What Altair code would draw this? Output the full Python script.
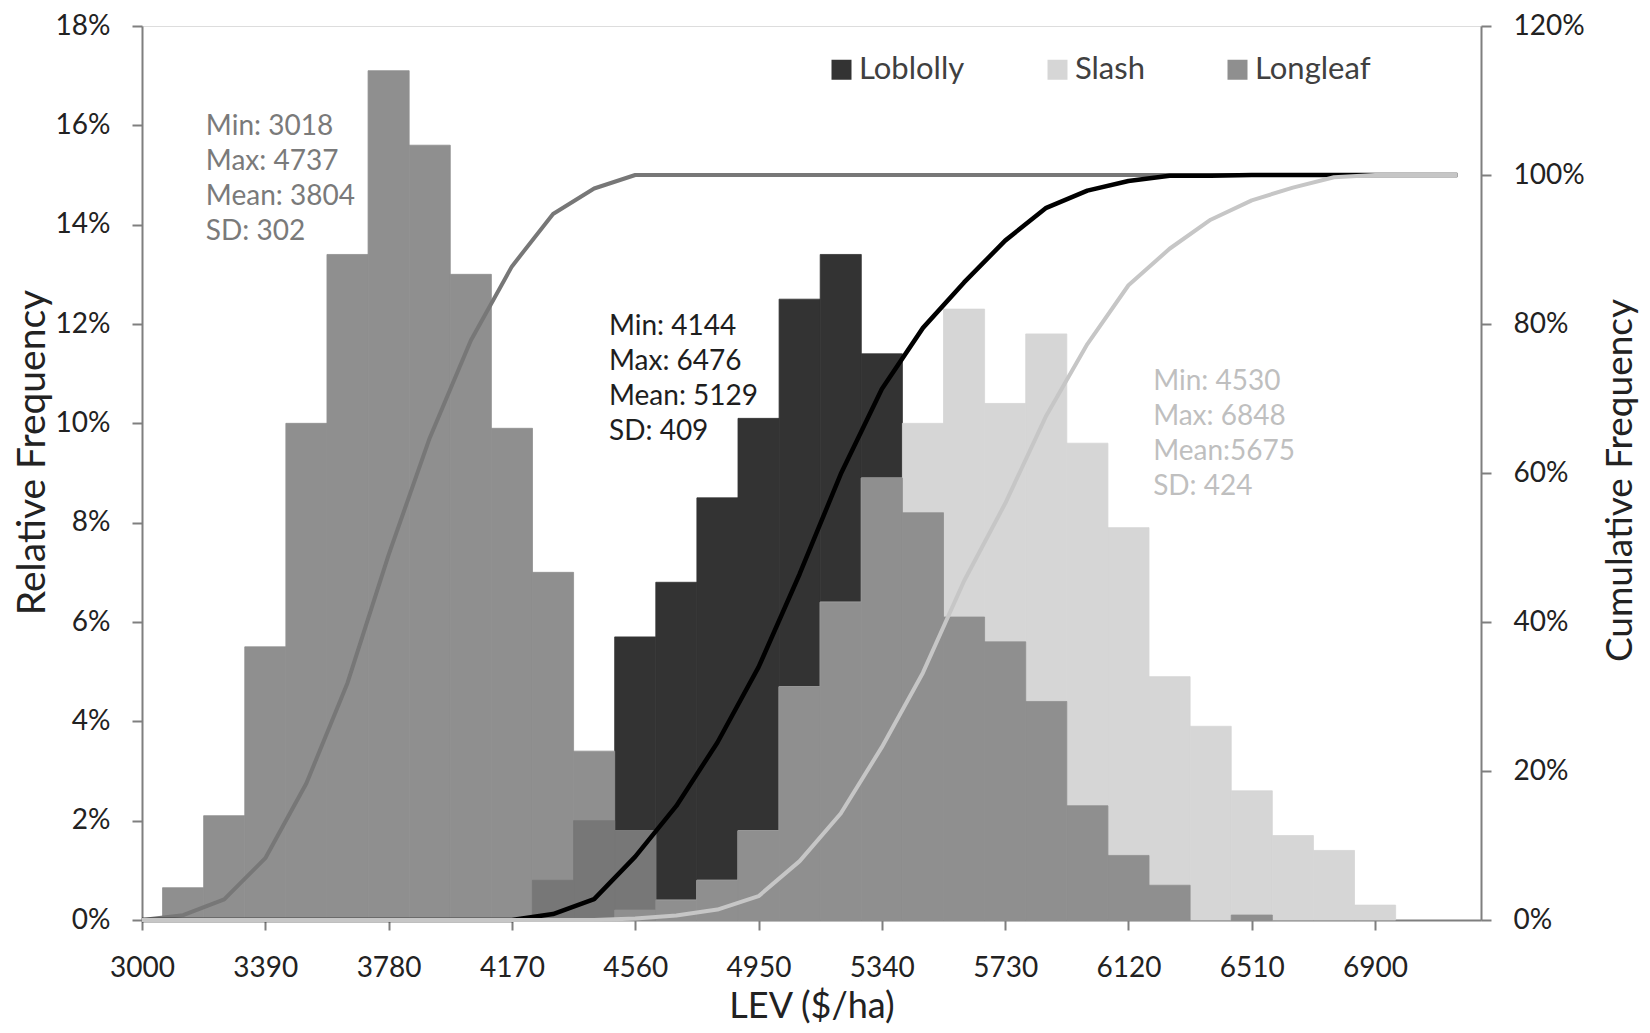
import altair as alt
import pandas as pd

# ---------------- data ----------------
bin_centers = [3000, 3130, 3260, 3390, 3520, 3650, 3780, 3910, 4040, 4170, 4300,
               4430, 4560, 4690, 4820, 4950, 5080, 5210, 5340, 5470, 5600, 5730,
               5860, 5990, 6120, 6250, 6380, 6510, 6640, 6770, 6900, 7030, 7160]
longleaf = [0, 0.65, 2.1, 5.5, 10.0, 13.4, 17.1, 15.6, 13.0, 9.9, 7.0,
            3.4, 1.8, 0, 0, 0, 0, 0, 0, 0, 0, 0,
            0, 0, 0, 0, 0, 0, 0, 0, 0, 0, 0]
loblolly = [0, 0, 0, 0, 0, 0, 0, 0, 0, 0, 0.8,
            2.0, 5.7, 6.8, 8.5, 10.1, 12.5, 13.4, 11.4, 8.2, 6.1, 5.6,
            4.4, 2.3, 1.3, 0.7, 0, 0.1, 0, 0, 0, 0, 0]
slash = [0, 0, 0, 0, 0, 0, 0, 0, 0, 0, 0,
         0, 0.2, 0.4, 0.8, 1.8, 4.7, 6.4, 8.9, 10.0, 12.3, 10.4,
         11.8, 9.6, 7.9, 4.9, 3.9, 2.6, 1.7, 1.4, 0.3, 0, 0]

species_names = ["Loblolly", "Slash", "Longleaf"]
x_tick_values = [3000, 3390, 3780, 4170, 4560, 4950, 5340, 5730, 6120, 6510, 6900]
left_ticks = [0, 2, 4, 6, 8, 10, 12, 14, 16, 18]
right_ticks = [0, 20, 40, 60, 80, 100, 120]

stats_longleaf = ["Min: 3018", "Max: 4737", "Mean: 3804", "SD: 302"]
stats_loblolly = ["Min: 4144", "Max: 6476", "Mean: 5129", "SD: 409"]
stats_slash = ["Min: 4530", "Max: 6848", "Mean:5675", "SD: 424"]

# ---------------- styling / layout ----------------
BIN_HALF = 65
FONT = "Lato"
bar_colors = ["#333333", "#d6d6d6", "#8f8f8f"]
overlap_lob_long = "#777777"
overlap_lob_slash = "#8f8f8f"
line_colors = {"Longleaf": "#777777", "Loblolly": "#000000", "Slash": "#c6c6c6"}
text_colors = {"Longleaf": "#7a7a7a", "Loblolly": "#1e1e1e", "Slash": "#bfbfbf"}
# annotation anchors: left x in $/ha, first-line centre in % of left axis
ann_pos = {"Longleaf": (3202, 15.97), "Loblolly": (4477, 11.94), "Slash": (6198, 10.83)}

rows = []
for name, vals in (("Loblolly", loblolly), ("Slash", slash), ("Longleaf", longleaf)):
    for c, v in zip(bin_centers, vals):
        rows.append({"species": name, "center": c, "freq": v})
df = pd.DataFrame(rows)

ov = pd.DataFrame({
    "center": bin_centers,
    "lob_long": [min(a, b) for a, b in zip(loblolly, longleaf)],
    "lob_slash": [min(a, b) for a, b in zip(loblolly, slash)],
})

ann_species = ["Longleaf", "Loblolly", "Slash"]
ann = pd.DataFrame({
    "species": ann_species,
    "label": ["\n".join(stats_longleaf), "\n".join(stats_loblolly), "\n".join(stats_slash)],
    "tx": [ann_pos[s][0] for s in ann_species],
    "ty": [ann_pos[s][1] for s in ann_species],
})

xscale = alt.Scale(domain=[3000, 7235], nice=False, zero=False)
axis_common = dict(labelFont=FONT, titleFont=FONT, labelFontSize=28,
                   labelColor="#222222", titleColor="#222222", titleFontWeight="normal",
                   domainColor="#7f7f7f", domainWidth=2, tickColor="#7f7f7f", tickWidth=2,
                   tickSize=10, grid=False, labelFlush=False, labelOverlap=False)
xaxis = alt.Axis(values=x_tick_values, format="d", title="LEV ($/ha)", labelPadding=24,
                 titleFontSize=36, titleBaseline="middle", titleY=86, **axis_common)
yl_axis = alt.Axis(orient="left", values=left_ticks, labelExpr="datum.value + '%'",
                   title="Relative Frequency", labelPadding=22, titleAngle=270,
                   titleFontSize=39, titleBaseline="middle", titleAlign="center",
                   titleX=-110, titleY=426, **axis_common)
yr_axis = alt.Axis(orient="right", values=right_ticks, labelExpr="datum.value + '%'",
                   title="Cumulative Frequency", labelPadding=22, titleAngle=270,
                   titleFontSize=37, titleBaseline="middle", titleAlign="center",
                   titleX=139, titleY=454, **axis_common)
yl_scale = alt.Scale(domain=[0, 18], nice=False)
yr_scale = alt.Scale(domain=[0, 120], nice=False)

# ---------------- bars ----------------
bars = alt.Chart(df).transform_filter("datum.freq > 0").transform_calculate(
    lo=f"datum.center - {BIN_HALF}", hi=f"datum.center + {BIN_HALF}"
).mark_rect(strokeWidth=0.8).encode(
    x=alt.X("lo:Q", scale=xscale, axis=xaxis),
    x2="hi:Q",
    y=alt.Y("freq:Q", scale=yl_scale, axis=yl_axis),
    y2=alt.datum(0),
    color=alt.Color("species:N",
                    scale=alt.Scale(domain=species_names, range=bar_colors),
                    legend=alt.Legend(orient="none", legendX=684, legendY=28,
                                      direction="horizontal", title=None,
                                      symbolType="square", symbolSize=400,
                                      symbolStrokeWidth=0, symbolOpacity=1,
                                      labelFont=FONT, labelFontSize=31,
                                      labelColor="#404040", labelOffset=2,
                                      columnPadding=77, padding=0)),
    stroke=alt.Stroke("species:N",
                      scale=alt.Scale(domain=species_names, range=bar_colors),
                      legend=None),
)

def overlap_layer(field, color):
    return alt.Chart(ov).transform_filter(f"datum.{field} > 0").transform_calculate(
        lo=f"datum.center - {BIN_HALF}", hi=f"datum.center + {BIN_HALF}"
    ).mark_rect(color=color, stroke=color, strokeWidth=0.8).encode(
        x=alt.X("lo:Q", scale=xscale, axis=xaxis),
        x2="hi:Q",
        y=alt.Y(f"{field}:Q", scale=yl_scale, axis=yl_axis),
        y2=alt.datum(0),
    )

texts = []
for s in ann_species:
    texts.append(
        alt.Chart(ann).transform_filter(f"datum.species == '{s}'").mark_text(
            align="left", baseline="middle", lineBreak="\n", lineHeight=35,
            fontSize=28, font=FONT, color=text_colors[s]
        ).encode(
            x=alt.X("tx:Q", scale=xscale, axis=xaxis),
            y=alt.Y("ty:Q", scale=yl_scale, axis=yl_axis),
            text="label:N",
        )
    )

left_group = alt.layer(bars, overlap_layer("lob_long", overlap_lob_long),
                       overlap_layer("lob_slash", overlap_lob_slash), *texts)

# ---------------- cumulative lines ----------------
cum_base = alt.Chart(df).transform_window(
    cum="sum(freq)", groupby=["species"], sort=[alt.SortField("center")], frame=[None, 0]
).transform_joinaggregate(tot="sum(freq)", groupby=["species"]).transform_calculate(
    cumpct="100 * datum.cum / datum.tot"
)

lines = []
for s, w in (("Longleaf", 4), ("Loblolly", 4.5), ("Slash", 4)):
    lines.append(
        cum_base.transform_filter(f"datum.species == '{s}'").mark_line(
            color=line_colors[s], strokeWidth=w, strokeJoin="round"
        ).encode(
            x=alt.X("center:Q", scale=xscale, axis=xaxis),
            y=alt.Y("cumpct:Q", scale=yr_scale, axis=yr_axis),
        )
    )
right_group = alt.layer(*lines)

chart = alt.layer(left_group, right_group).resolve_scale(
    y="independent", stroke="independent"
).properties(
    width=1339, height=894,
    autosize=alt.AutoSizeParams(type="none"),
    padding={"left": 134, "top": 18, "right": 161, "bottom": 105},
).configure_view(stroke="#8c8c8c", strokeWidth=1.5).configure(font=FONT)

chart.save("out.html", embed_options={"renderer": "svg", "actions": False})
